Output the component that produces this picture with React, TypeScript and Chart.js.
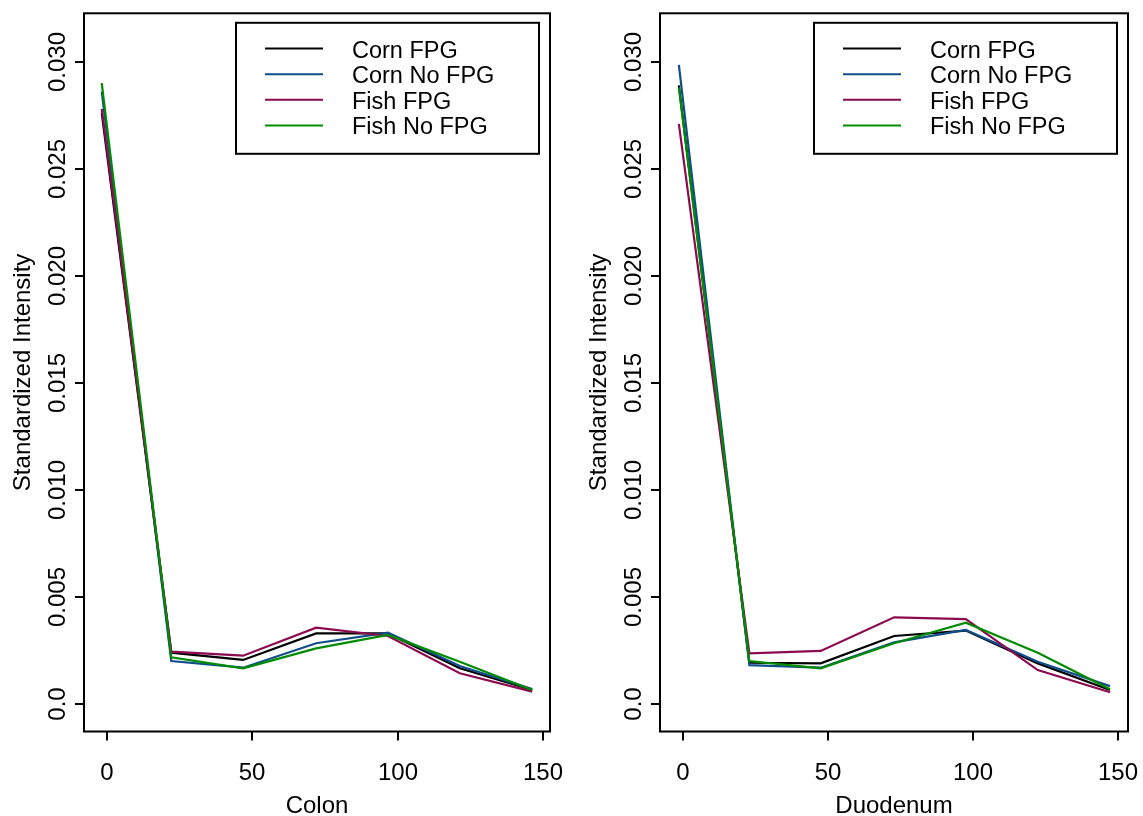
import React, { useEffect, useRef } from "react";
import { Chart, registerables } from "chart.js";

Chart.register(...registerables);

// ---------- data ----------
const seriesNames = ["Corn FPG", "Corn No FPG", "Fish FPG", "Fish No FPG"];
const seriesColors = ["#000000", "#104E8B", "#8B0A50", "#008B00"];

const xColon = [-1.7, 22.2, 46.9, 72.0, 96.7, 121.4, 146.3];
const colonCornFPG = [0.0276, 0.00241, 0.00207, 0.00331, 0.00331, 0.00168, 0.00067];
const colonCornNoFPG = [0.0286, 0.00202, 0.00171, 0.00285, 0.00334, 0.00179, 0.00071];
const colonFishFPG = [0.0278, 0.00246, 0.00227, 0.00358, 0.00319, 0.00145, 0.00059];
const colonFishNoFPG = [0.029, 0.00219, 0.00168, 0.00261, 0.00324, 0.00199, 0.00067];

const xDuodenum = [-1.4, 22.9, 47.5, 72.8, 97.5, 122.3, 147.2];
const duoCornFPG = [0.0289, 0.00194, 0.00191, 0.00319, 0.00344, 0.00191, 0.00067];
const duoCornNoFPG = [0.02985, 0.00183, 0.00171, 0.00289, 0.00347, 0.00199, 0.00085];
const duoFishFPG = [0.0271, 0.00238, 0.00249, 0.00406, 0.00398, 0.0016, 0.00056];
const duoFishNoFPG = [0.0288, 0.00202, 0.00168, 0.00285, 0.00381, 0.00241, 0.0007];

const xTickValues = [0, 50, 100, 150];
const xTickLabels = ["0", "50", "100", "150"];
const yTickValues = [0, 0.005, 0.01, 0.015, 0.02, 0.025, 0.03];
const yTickLabels = ["0.0", "0.005", "0.010", "0.015", "0.020", "0.025", "0.030"];
const yTitle = "Standardized Intensity";

const FONT = '"Liberation Sans", Arial, Helvetica, sans-serif';

type PanelProps = {
  xs: number[];
  series: number[][];
  xTitle: string;
  xMin: number;
  xMax: number;
  width: number;
  padLeft: number;
  padRight: number;
  left: number;
};

const framePlugin = (xTitle: string) => ({
  id: "rframe",
  afterDraw(chart: any) {
    const ctx = chart.ctx as CanvasRenderingContext2D;
    const a = chart.chartArea;
    const xs = chart.scales.x;
    const ys = chart.scales.y;
    ctx.save();
    ctx.strokeStyle = "#000";
    ctx.fillStyle = "#000";
    ctx.lineWidth = 2;
    // box
    ctx.strokeRect(a.left, a.top, a.right - a.left, a.bottom - a.top);
    // x ticks
    ctx.font = `24px ${FONT}`;
    ctx.textAlign = "center";
    ctx.textBaseline = "alphabetic";
    xTickValues.forEach((v, i) => {
      const px = Math.round(xs.getPixelForValue(v));
      ctx.beginPath();
      ctx.moveTo(px, a.bottom);
      ctx.lineTo(px, a.bottom + 9);
      ctx.stroke();
      ctx.fillText(xTickLabels[i], px, a.bottom + 48);
    });
    // y ticks
    yTickValues.forEach((v, i) => {
      const py = Math.round(ys.getPixelForValue(v));
      ctx.beginPath();
      ctx.moveTo(a.left, py);
      ctx.lineTo(a.left - 9, py);
      ctx.stroke();
      ctx.save();
      ctx.translate(a.left - 19, py);
      ctx.rotate(-Math.PI / 2);
      ctx.fillText(yTickLabels[i], 0, 0);
      ctx.restore();
    });
    // titles
    ctx.fillText(xTitle, (a.left + a.right) / 2, a.bottom + 81);
    ctx.save();
    ctx.translate(a.left - 54, (a.top + a.bottom) / 2);
    ctx.rotate(-Math.PI / 2);
    ctx.fillText(yTitle, 0, 0);
    ctx.restore();
    // legend
    const lw = 303;
    const lh = 131;
    const lx = a.right - 11 - lw;
    const ly = a.top + 9.5;
    ctx.fillStyle = "#fff";
    ctx.fillRect(lx, ly, lw, lh);
    ctx.strokeStyle = "#000";
    ctx.strokeRect(lx, ly, lw, lh);
    ctx.font = `23.5px ${FONT}`;
    ctx.textAlign = "left";
    ctx.textBaseline = "middle";
    seriesNames.forEach((name, i) => {
      const cy = ly + 25.8 + i * 25.6;
      ctx.strokeStyle = seriesColors[i];
      ctx.beginPath();
      ctx.moveTo(lx + 29, cy);
      ctx.lineTo(lx + 87, cy);
      ctx.stroke();
      ctx.fillStyle = "#000";
      ctx.fillText(name, lx + 116, cy + 2.5);
    });
    ctx.restore();
  },
});

function Panel(p: PanelProps) {
  const ref = useRef<HTMLCanvasElement | null>(null);
  useEffect(() => {
    if (!ref.current) return;
    const datasets = seriesNames
      .map((name, i) => ({
        label: name,
        data: p.xs.map((x, j) => ({ x, y: p.series[i][j] })),
        borderColor: seriesColors[i],
        backgroundColor: seriesColors[i],
        borderWidth: 2.2,
        pointRadius: 0,
        tension: 0,
        fill: false,
      }))
      .reverse();
    const chart = new Chart(ref.current, {
      type: "line",
      data: { datasets },
      options: {
        animation: false,
        responsive: false,
        devicePixelRatio: 1,
        layout: {
          padding: { left: p.padLeft, right: p.padRight, top: 13.3, bottom: 84.5 },
        },
        plugins: { legend: { display: false }, tooltip: { enabled: false } },
        scales: {
          x: { type: "linear", min: p.xMin, max: p.xMax, display: false },
          y: { type: "linear", min: -0.00127, max: 0.03226, display: false },
        },
      },
      plugins: [framePlugin(p.xTitle)],
    } as any);
    return () => chart.destroy();
  }, []);
  return (
    <canvas
      ref={ref}
      width={p.width}
      height={816}
      style={{ position: "absolute", left: p.left, top: 0, width: p.width, height: 816 }}
    />
  );
}

export default function App() {
  return (
    <div style={{ position: "absolute", left: 0, top: 0, width: 1143, height: 816, background: "#fff" }}>
      <Panel
        xs={xColon}
        series={[colonCornFPG, colonCornNoFPG, colonFishFPG, colonFishNoFPG]}
        xTitle="Colon"
        xMin={-7.8}
        xMax={152.4}
        width={571}
        padLeft={84}
        padRight={21}
        left={0}
      />
      <Panel
        xs={xDuodenum}
        series={[duoCornFPG, duoCornNoFPG, duoFishFPG, duoFishNoFPG]}
        xTitle="Duodenum"
        xMin={-7.9}
        xMax={153.4}
        width={572}
        padLeft={89}
        padRight={15}
        left={571}
      />
    </div>
  );
}
